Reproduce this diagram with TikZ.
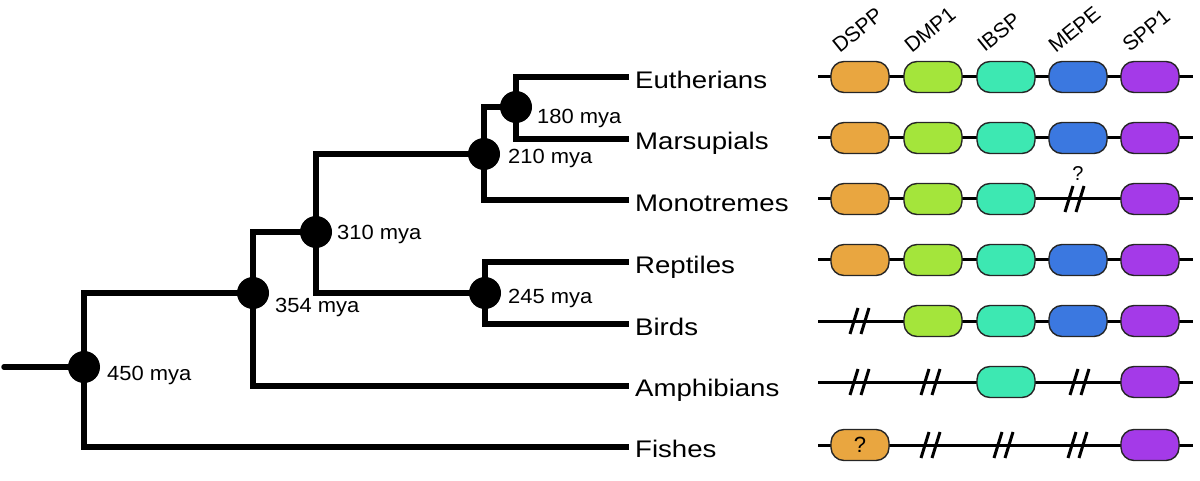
\documentclass[tikz,border=0pt]{standalone}
\usepackage{fontspec}
\setmainfont{Liberation Sans}
\newfontfamily\leaffont[FakeStretch=1.15]{Liberation Sans}
\newfontfamily\myafont[FakeStretch=1.07]{Liberation Sans}
\usetikzlibrary{backgrounds}
\definecolor{cDSPP}{HTML}{E9A640}
\definecolor{cDMP}{HTML}{A4E53B}
\definecolor{cIBSP}{HTML}{3DE8B2}
\definecolor{cMEPE}{HTML}{3B78E0}
\definecolor{cSPP}{HTML}{A43AE8}
\newcommand{\slanted}[1]{\rotatebox{39}{#1}}
\begin{document}
\begin{tikzpicture}[x=1pt,y=-1pt,
  branch/.style={line width=5.5pt, line join=miter},
  dot/.style={circle, fill=black, inner sep=0pt, minimum size=32pt},
  mya/.style={anchor=base west, inner sep=0pt, font=\myafont\fontsize{20.5}{24}\selectfont},
  leaf/.style={anchor=base west, inner sep=0pt, font=\leaffont\fontsize{24}{28}\selectfont},
  gene/.style={draw=black!85, line width=1.4pt, rounded corners=13pt, minimum width=58pt, minimum height=31pt, inner sep=0pt, font=\fontsize{22}{24}\selectfont},
  genehead/.style={anchor=base west, inner sep=0pt, font=\fontsize{21}{24}\selectfont},
  chrom/.style={line width=3pt},
  qmark/.style={inner sep=0pt, font=\fontsize{20}{24}\selectfont},
  brk/.pic={\draw[line width=3pt] (-10,13) -- (-2,-13) (1,13) -- (9,-13);}
]
\useasboundingbox (0,0) rectangle (1200,481);

% ---------------- tree ----------------
\node[dot] (n450) at (84,367) {};
\node[dot] (n354) at (253,293) {};
\node[dot] (n310) at (316,232) {};
\node[dot] (n245) at (485,293) {};
\node[dot] (n210) at (484,154) {};
\node[dot] (n180) at (516,107) {};

\coordinate (root) at (4,367);
\coordinate (eu-end) at (629,77);
\coordinate (ma-end) at (629,139);
\coordinate (mo-end) at (629,200);
\coordinate (re-end) at (629,262);
\coordinate (bi-end) at (629,324);
\coordinate (am-end) at (629,386);
\coordinate (fi-end) at (629,447);

\begin{pgfonlayer}{background}
  \draw[branch, line cap=round] (root) -- (n450.center);
  \draw[branch] (n450.center) |- (n354.center);
  \draw[branch] (n450.center) |- (fi-end);
  \draw[branch] (n354.center) |- (n310.center);
  \draw[branch] (n354.center) |- (am-end);
  \draw[branch] (n310.center) |- (n210.center);
  \draw[branch] (n310.center) |- (n245.center);
  \draw[branch] (n210.center) |- (n180.center);
  \draw[branch] (n210.center) |- (mo-end);
  \draw[branch] (n180.center) |- (eu-end);
  \draw[branch] (n180.center) |- (ma-end);
  \draw[branch] (n245.center) |- (re-end);
  \draw[branch] (n245.center) |- (bi-end);
\end{pgfonlayer}

\node[mya] (l450) at (107,380.5) {450 mya};
\node[mya] (l354) at (275,312.5) {354 mya};
\node[mya] (l310) at (337,240) {310 mya};
\node[mya] (l245) at (508,303) {245 mya};
\node[mya] (l210) at (508,164) {210 mya};
\node[mya] (l180) at (537,124) {180 mya};

\node[leaf] (eu) at (635,88.5) {Eutherians};
\node[leaf] (ma) at (635,150) {Marsupials};
\node[leaf] (mo) at (635,211.5) {Monotremes};
\node[leaf] (re) at (635,273.5) {Reptiles};
\node[leaf] (bi) at (635,335.5) {Birds};
\node[leaf] (am) at (635,396) {Amphibians};
\node[leaf] (fi) at (635,457.5) {Fishes};

% ---------------- gene headers ----------------
\node[genehead] (hD) at (830.5,54) {\slanted{DSPP}};
\node[genehead] (hM) at (902.5,54) {\slanted{DMP1}};
\node[genehead] (hI) at (975.5,53) {\slanted{IBSP}};
\node[genehead] (hE) at (1046.5,54) {\slanted{MEPE}};
\node[genehead] (hS) at (1120.5,53) {\slanted{SPP1}};

% ---------------- gene rows ----------------
\foreach \r/\y in {1/77,2/138,3/199,4/260,5/321,6/382,7/445}{
  \coordinate (gs\r) at (818,\y);
  \coordinate (ge\r) at (1193,\y);
  \begin{pgfonlayer}{background}
    \draw[chrom] (gs\r) -- (ge\r);
  \end{pgfonlayer}
}

% row 1 Eutherians
\node[gene, fill=cDSPP] (d1) at (860,77) {};
\node[gene, fill=cDMP]  (m1) at (933,77) {};
\node[gene, fill=cIBSP] (i1) at (1006,77) {};
\node[gene, fill=cMEPE] (e1) at (1078,77) {};
\node[gene, fill=cSPP]  (s1) at (1150,77) {};
% row 2 Marsupials
\node[gene, fill=cDSPP] (d2) at (860,138) {};
\node[gene, fill=cDMP]  (m2) at (933,138) {};
\node[gene, fill=cIBSP] (i2) at (1006,138) {};
\node[gene, fill=cMEPE] (e2) at (1078,138) {};
\node[gene, fill=cSPP]  (s2) at (1150,138) {};
% row 3 Monotremes
\node[gene, fill=cDSPP] (d3) at (860,199) {};
\node[gene, fill=cDMP]  (m3) at (933,199) {};
\node[gene, fill=cIBSP] (i3) at (1006,199) {};
\pic at (1075,199) {brk};
\node[qmark] (q3) at (1078,174) {?};
\node[gene, fill=cSPP]  (s3) at (1150,199) {};
% row 4 Reptiles
\node[gene, fill=cDSPP] (d4) at (860,260) {};
\node[gene, fill=cDMP]  (m4) at (933,260) {};
\node[gene, fill=cIBSP] (i4) at (1006,260) {};
\node[gene, fill=cMEPE] (e4) at (1078,260) {};
\node[gene, fill=cSPP]  (s4) at (1150,260) {};
% row 5 Birds
\pic at (860,321) {brk};
\node[gene, fill=cDMP]  (m5) at (933,321) {};
\node[gene, fill=cIBSP] (i5) at (1006,321) {};
\node[gene, fill=cMEPE] (e5) at (1078,321) {};
\node[gene, fill=cSPP]  (s5) at (1150,321) {};
% row 6 Amphibians
\pic at (860,382) {brk};
\pic at (931,382) {brk};
\node[gene, fill=cIBSP] (i6) at (1006,382) {};
\pic at (1080,382) {brk};
\node[gene, fill=cSPP]  (s6) at (1150,382) {};
% row 7 Fishes
\node[gene, fill=cDSPP] (d7) at (860,445) {?};
\pic at (931,445) {brk};
\pic at (1004,445) {brk};
\pic at (1078,445) {brk};
\node[gene, fill=cSPP]  (s7) at (1150,445) {};
\end{tikzpicture}
\end{document}
